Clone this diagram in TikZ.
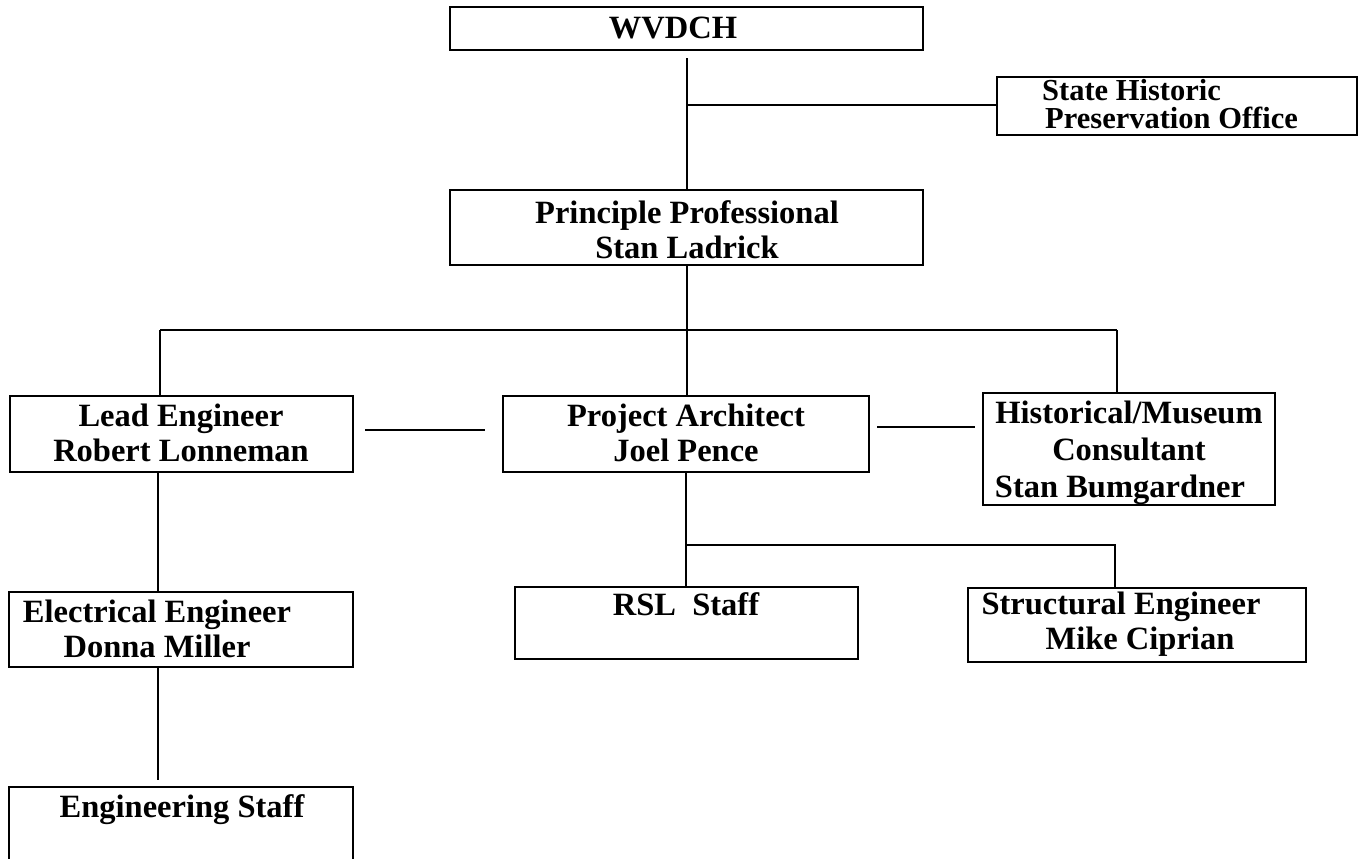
\documentclass[tikz,border=0pt]{standalone}
\usepackage{fontspec}
\setmainfont{Liberation Serif}
\tikzset{
  box/.style={draw, line width=1.6bp, inner sep=0pt, minimum width=#1},
  lbl/.style={font=\fontsize{32.5bp}{35bp}\selectfont\bfseries, align=center, inner sep=0pt},
  conn/.style={line width=1.8bp}
}
\begin{document}
\begin{tikzpicture}[x=1bp, y=-1bp]
\useasboundingbox (0,0) rectangle (1361,858);
% boxes
\node[box=473bp, minimum height=43bp] (wv) at (686.5,28.5) {};
\node[box=360bp, minimum height=58bp] (sh) at (1177,106) {};
\node[box=473bp, minimum height=75bp] (pp) at (686.5,227.5) {};
\node[box=343bp, minimum height=76bp] (le) at (181.5,434) {};
\node[box=366bp, minimum height=76bp] (pa) at (686,434) {};
\node[box=292bp, minimum height=112bp] (hm) at (1129,449) {};
\node[box=344bp, minimum height=75bp] (ee) at (181,629.5) {};
\node[box=344bp, minimum height=88bp] (es) at (181,831) {};
\node[box=343bp, minimum height=72bp] (rs) at (686.5,623) {};
\node[box=338bp, minimum height=74bp] (se) at (1137,625) {};
% texts
\node[lbl, anchor=base] (twv) at (673,38) {WVDCH};
\node[lbl, anchor=base west, font=\fontsize{30.5bp}{33bp}\selectfont\bfseries] (tsh1) at (1042,100) {State Historic};
\node[lbl, anchor=base west, font=\fontsize{30.5bp}{33bp}\selectfont\bfseries] (tsh2) at (1045,128) {Preservation Office};
\node[lbl, anchor=north] (tpp) at (687,200) {Principle Professional\\Stan Ladrick};
\node[lbl, anchor=north] (tle) at (181,404) {Lead Engineer\\Robert Lonneman};
\node[lbl, anchor=north] (tpa) at (686,404) {Project Architect\\Joel Pence};
\node[lbl, anchor=north, font=\fontsize{32.5bp}{37bp}\selectfont\bfseries] (thm) at (1129,401) {Historical/Museum\\Consultant\\Stan Bumgardner\hspace*{18bp}};
\node[lbl, anchor=north] (tee) at (157,600) {Electrical Engineer\\Donna Miller};
\node[lbl, anchor=base] (tes) at (182,817) {Engineering Staff};
\node[lbl, anchor=base] (trs) at (686,615) {RSL\ \ Staff};
\node[lbl, anchor=north] (tse) at (1130,592) {Structural Engineer\hspace*{18bp}\\\hspace*{20bp}Mike Ciprian};
% connectors
\coordinate (c1) at (687,58);
\coordinate (c2) at (687,105);
\draw[conn] (c1) -- (c1 |- pp.north);
\draw[conn] (c2) -- (c2 -| sh.west);
\coordinate (b0) at (687,330);
\coordinate (bl) at (160,330);
\coordinate (br) at (1117,330);
\draw[conn] (b0 |- pp.south) -- (b0 |- pa.north);
\draw[conn] (bl) -- (br);
\draw[conn] (bl) -- (bl |- le.north);
\draw[conn] (br) -- (br |- hm.north);
\coordinate (h1a) at (365,430);
\coordinate (h1b) at (485,430);
\draw[conn] (h1a) -- (h1b);
\coordinate (h2a) at (877,427);
\coordinate (h2b) at (975,427);
\draw[conn] (h2a) -- (h2b);
\coordinate (v1) at (158,472);
\draw[conn] (v1 |- le.south) -- (v1 |- ee.north);
\coordinate (v2) at (158,780);
\draw[conn] (v1 |- ee.south) -- (v2);
\coordinate (d0) at (686,545);
\coordinate (d1) at (1115,545);
\draw[conn] (d0 |- pa.south) -- (d0 |- rs.north);
\draw[conn] (d0) -- (d1) -- (d1 |- se.north);
\end{tikzpicture}
\end{document}
